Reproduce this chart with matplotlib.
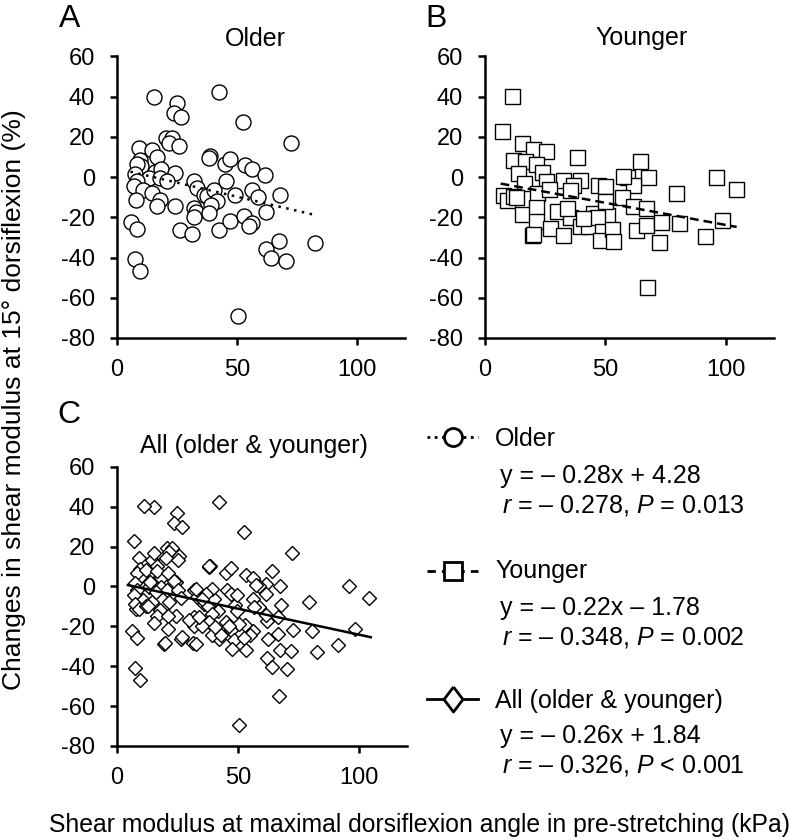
import matplotlib
matplotlib.use("Agg")
import matplotlib.pyplot as plt
from matplotlib.lines import Line2D
from matplotlib.transforms import Affine2D
import numpy as np

plt.rcParams['font.family'] = ['Liberation Sans', 'DejaVu Sans']
plt.rcParams['axes.unicode_minus'] = False
plt.rcParams['mathtext.fontset'] = 'custom'
plt.rcParams['mathtext.rm'] = 'Liberation Sans'
plt.rcParams['mathtext.it'] = 'Liberation Sans:italic'

# ---------------- data ----------------
older_x = [15.3, 42.4, 25.0, 23.6, 26.7, 52.5, 72.6, 20.6, 22.9, 21.5, 25.7, 9.3, 14.6, 16.7,
           9.4, 10.1, 8.3, 16.0, 18.3, 24.3, 7.4, 13.2, 18.0, 20.8, 8.3, 6.9, 10.8, 14.6, 7.9,
           17.8, 16.7, 24.3, 6.0, 8.3, 7.6, 9.4, 26.4, 31.3, 31.9, 33.3, 31.9, 32.9, 31.9, 38.6,
           38.2, 36.1, 37.5, 40.3, 41.7, 39.3, 38.2, 42.4, 45.1, 47.2, 45.4, 49.0, 47.2, 50.3,
           53.5, 56.3, 56.3, 52.8, 56.3, 54.9, 61.5, 58.8, 62.2, 67.8, 62.1, 64.3, 67.4, 70.4, 82.6]
older_y = [39.8, 42.1, 36.8, 31.8, 29.9, 27.2, 16.9, 19.4, 19.4, 17.2, 15.3, 14.3, 13.3, 10.0,
           8.6, 5.3, 6.6, 2.8, 4.0, 2.0, 1.7, -0.5, -0.5, -1.7, -1.7, -4.3, -6.6, -8.0, -11.3,
           -11.6, -14.6, -14.6, -22.4, -25.9, -40.8, -46.9, -26.2, -28.4, -1.8, -5.5, -15.4, -17.4,
           -19.6, 10.3, 9.5, -8.8, -9.6, -6.3, -12.1, -13.8, -17.9, -26.5, 6.5, 9.0, -1.8, -9.1,
           -21.7, -69.3, 5.8, 4.0, -6.3, -19.1, -22.6, -24.5, 1.2, -10.1, -17.1, -9.1, -35.7,
           -40.3, -32.0, -41.6, -32.8]

younger_x = [11.1, 6.9, 15.5, 20.1, 25.4, 11.8, 16.6, 21.0, 38.0, 13.8, 23.5, 32.5, 39.4, 16.3,
             25.3, 36.7, 47.0, 49.8, 58.8, 64.3, 67.5, 61.5, 96.1, 104.1, 79.3, 7.6, 9.0, 11.8,
             21.4, 15.2, 21.0, 29.7, 35.3, 33.9, 44.9, 50.5, 56.7, 61.5, 66.7, 21.0, 27.0, 19.4,
             20.0, 32.5, 39.4, 42.9, 46.3, 48.4, 47.7, 52.6, 53.2, 62.6, 66.7, 73.0, 80.6, 72.2,
             91.3, 98.6, 67.1, 35.3, 13.0, 49.8, 57.5, 26.5, 40.5]
younger_y = [40.5, 22.7, 16.9, 14.1, 13.1, 8.3, 7.8, 6.6, 10.0, 2.0, 2.8, -1.3, -1.3, -3.0,
             -1.8, -3.8, -3.8, -4.3, 0.0, 7.8, 0.0, -3.8, 0.0, -6.0, -8.0, -8.8, -11.3, -9.6,
             -8.0, -18.2, -14.9, -16.7, -19.6, -15.4, -17.9, -18.7, -10.1, -14.3, -15.1, -21.6,
             -25.4, -29.0, -28.4, -28.7, -24.5, -24.5, -19.6, -27.0, -31.5, -25.7, -32.0, -26.2,
             -23.7, -22.1, -22.6, -32.5, -29.5, -21.2, -54.7, -6.3, -10.0, -12.1, 0.5, -6.0, -20.5]

# regression lines (slope, intercept, x-range)
older_fit = (-0.28, 4.28, 5.6, 82.0)
younger_fit = (-0.22, -1.78, 6.5, 104.5)
all_fit = (-0.26, 1.84, 4.5, 105.0)

panel_titles = ["Older", "Younger", "All (older & younger)"]
legend_labels = ["Older", "Younger", "All (older & younger)"]
legend_eq = ["y = – 0.28x + 4.28", "y = – 0.22x – 1.78", "y = – 0.26x + 1.84"]
legend_stat = [r"$r$ = – 0.278, $P$ = 0.013", r"$r$ = – 0.348, $P$ = 0.002",
               r"$r$ = – 0.326, $P$ < 0.001"]
x_ticks = [0, 50, 100]
y_ticks = [-80, -60, -40, -20, 0, 20, 40, 60]

# ---------------- figure ----------------
W, H = 800, 840
fig = plt.figure(figsize=(W / 100, H / 100), dpi=100)
pxT = Affine2D().scale(1 / W, -1 / H).translate(0, 1) + fig.transFigure

TICK_FS = 17
TITLE_FS = 18
LEG_FS = 18


def style_axes(ax):
    ax.set_xlim(0, 120)
    ax.set_ylim(-80, 60)
    ax.set_xticks(x_ticks)
    ax.set_yticks(y_ticks)
    for s in ['top', 'right']:
        ax.spines[s].set_visible(False)
    for s in ['left', 'bottom']:
        ax.spines[s].set_linewidth(1.8)
    ax.tick_params(axis='both', direction='out', length=5, width=1.8, labelsize=TICK_FS)
    ax.tick_params(axis='y', pad=11)
    ax.tick_params(axis='x', pad=10)
    ax.set_facecolor('none')


def rect(left, top, right, bottom):
    return [left / W, 1 - bottom / H, (right - left) / W, (bottom - top) / H]


axA = fig.add_axes(rect(117, 56.5, 405, 338))
axB = fig.add_axes(rect(485, 56.5, 774, 338))
axC = fig.add_axes(rect(117, 466.7, 407, 746))

for ax in (axA, axB, axC):
    style_axes(ax)

mk = dict(mfc='white', mec='black', mew=1.0, linestyle='none')
axA.plot(older_x, older_y, marker='o', ms=10.8, **mk, zorder=2)
axB.plot(younger_x, younger_y, marker='s', ms=10.8, **mk, zorder=2)
all_x = older_x + younger_x
all_y = older_y + younger_y
axC.plot(all_x, all_y, marker='D', ms=7.0, **mk, zorder=2)


def fitline(ax, fit, **kw):
    m, b, x0, x1 = fit
    xs = np.array([x0, x1])
    ax.plot(xs, m * xs + b, color='black', zorder=3, **kw)


fitline(axA, older_fit, lw=1.8, linestyle=(0, (1, 2.2)))
fitline(axB, younger_fit, lw=1.8, linestyle=(0, (3.5, 2)))
fitline(axC, all_fit, lw=1.8, linestyle='-')

# panel letters & titles
fig.text(70, 27, "A", transform=pxT, fontsize=23, ha='center', va='baseline')
fig.text(436, 27, "B", transform=pxT, fontsize=23, ha='center', va='baseline')
fig.text(69, 423, "C", transform=pxT, fontsize=23, ha='center', va='baseline')
fig.text(255, 46, panel_titles[0], transform=pxT, fontsize=TITLE_FS, ha='center', va='baseline')
fig.text(642, 45, panel_titles[1], transform=pxT, fontsize=TITLE_FS, ha='center', va='baseline')
fig.text(254, 453, panel_titles[2], transform=pxT, fontsize=TITLE_FS, ha='center', va='baseline')

# axis labels
fig.text(14, 690, "Changes in shear modulus at 15° dorsiflexion (%)", transform=pxT,
         fontsize=19, rotation=90, ha='center', va='bottom')
fig.text(49, 832, "Shear modulus at maximal dorsiflexion angle in pre-stretching (kPa)",
         transform=pxT, fontsize=17.8, ha='left', va='baseline')

# legend
diamond = [(0, 1), (0.76, 0), (0, -1), (-0.76, 0), (0, 1)]
leg_rows = [
    dict(y=437, base=446, ls=(0, (1, 1.6)), marker='o', ms=13),
    dict(y=571, base=578, ls=(0, (3, 2.2)), marker='s', ms=12.5),
    dict(y=699, base=708, ls='-', marker=diamond, ms=18),
]
eq_base = [(483, 512), (615, 644), (743, 773)]
for i, row in enumerate(leg_rows):
    fig.add_artist(Line2D([427, 478], [row['y'], row['y']], transform=pxT, color='black',
                          lw=2.0, linestyle=row['ls']))
    fig.add_artist(Line2D([452.5], [row['y']], transform=pxT, marker=row['marker'],
                          ms=row['ms'], mfc='white', mec='black', mew=2.0, linestyle='none'))
    fig.text(495, row['base'], legend_labels[i], transform=pxT, fontsize=LEG_FS,
             ha='left', va='baseline')
    fig.text(500.5, eq_base[i][0], legend_eq[i], transform=pxT, fontsize=LEG_FS,
             ha='left', va='baseline')
    fig.text(501.5, eq_base[i][1], legend_stat[i], transform=pxT, fontsize=LEG_FS,
             ha='left', va='baseline')

fig.savefig("out.png", dpi=100, facecolor='white')
